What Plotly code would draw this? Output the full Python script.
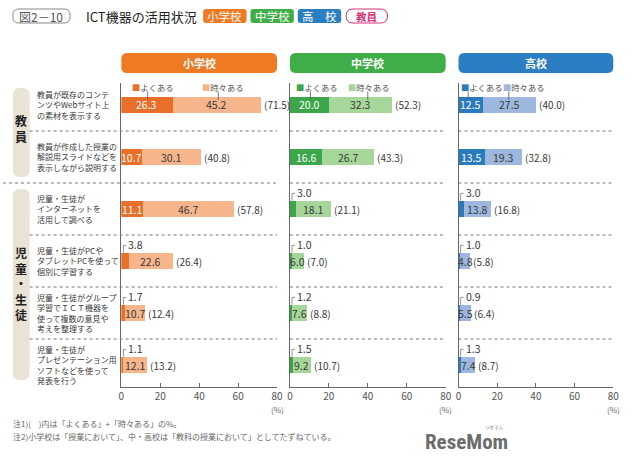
import plotly.graph_objects as go

# ---------------- data ----------------
rows = [0, 1, 2, 3, 4, 5]
row_labels = [
    "教員が既存のコンテ<br>ンツやWebサイト上<br>の素材を表示する",
    "教員が作成した授業の<br>解説用スライドなどを<br>表示しながら説明する",
    "児童・生徒が<br>インターネットを<br>活用して調べる",
    "児童・生徒がPCや<br>タブレットPCを使って<br>個別に学習する",
    "児童・生徒がグループ<br>学習でＩＣＴ機器を<br>使って複数の意見や<br>考えを整理する",
    "児童・生徒が<br>プレゼンテーション用<br>ソフトなどを使って<br>発表を行う",
]
panels = ["小学校", "中学校", "高校"]
elem_often = [26.3, 10.7, 11.1, 3.8, 1.7, 1.1]
elem_some = [45.2, 30.1, 46.7, 22.6, 10.7, 12.1]
elem_total = [71.5, 40.8, 57.8, 26.4, 12.4, 13.2]
jr_often = [20.0, 16.6, 3.0, 1.0, 1.2, 1.5]
jr_some = [32.3, 26.7, 18.1, 6.0, 7.6, 9.2]
jr_total = [52.3, 43.3, 21.1, 7.0, 8.8, 10.7]
hs_often = [12.5, 13.5, 3.0, 1.0, 0.9, 1.3]
hs_some = [27.5, 19.3, 13.8, 4.8, 5.5, 7.4]
hs_total = [40.0, 32.8, 16.8, 5.8, 6.4, 8.7]
x_ticks = [0, 20, 40, 60, 80]
legend_names = ["よくある", "時々ある"]

W, H = 640, 465
def X(p): return p / W
def Y(p): return 1 - p / H

def rrect(x0, y0, x1, y1, r):
    return (f"M {X(x0+r)},{Y(y0)} L {X(x1-r)},{Y(y0)} Q {X(x1)},{Y(y0)} {X(x1)},{Y(y0+r)} "
            f"L {X(x1)},{Y(y1-r)} Q {X(x1)},{Y(y1)} {X(x1-r)},{Y(y1)} L {X(x0+r)},{Y(y1)} "
            f"Q {X(x0)},{Y(y1)} {X(x0)},{Y(y1-r)} L {X(x0)},{Y(y0+r)} Q {X(x0)},{Y(y0)} {X(x0+r)},{Y(y0)} Z")

def ptext(x, y, text, size, color, xanchor="center", bold=False, family=None):
    return dict(x=X(x), y=Y(y), xref="paper", yref="paper", text=("<b>%s</b>" % text) if bold else text,
                showarrow=False, xanchor=xanchor, yanchor="middle",
                font=dict(family=family or FONT, size=size, color=color))

FONT = "Noto Sans CJK JP"
TXT = "#3a3a3a"
colors = [
    dict(dark="#E9702A", light="#F6B58B", head="#EE7B24"),
    dict(dark="#3BA64A", light="#A6D699", head="#3FAE49"),
    dict(dark="#2A7BBE", light="#9DB7DE", head="#2B7EC1"),
]
data = [
    (elem_often, elem_some, elem_total),
    (jr_often, jr_some, jr_total),
    (hs_often, hs_some, hs_total),
]
px_dom = [(120, 278), (291, 449), (462, 619)]
legend_pos = [  # (x of よくある text, leader x, x of 時々ある text, leader x)
    (4.5, 13.5, 40.5, 49.8),
    (2.0, 10.5, 29.0, 40.0),
    (0.5, 5.0, 22.0, 26.0),
]

fig = go.Figure()
shapes, annos = [], []
ytop, ybot = 83, 387
yr = [(ybot - 105) / 52, (ytop - 105) / 52]

for k in range(3):
    often, some, total = data[k]
    c = colors[k]
    xa = "x" if k == 0 else f"x{k+1}"
    ya = "y" if k == 0 else f"y{k+1}"
    fig.add_trace(go.Bar(y=rows, x=often, orientation="h", marker=dict(color=c["dark"], line=dict(width=0)),
                         width=0.31, xaxis=xa, yaxis=ya, hoverinfo="skip", showlegend=False))
    fig.add_trace(go.Bar(y=rows, x=some, orientation="h", marker=dict(color=c["light"], line=dict(width=0)),
                         width=0.31, xaxis=xa, yaxis=ya, hoverinfo="skip", showlegend=False))
    x0, x1 = px_dom[k]
    axname = "xaxis" if k == 0 else f"xaxis{k+1}"
    yname = "yaxis" if k == 0 else f"yaxis{k+1}"
    fig.layout[axname] = dict(domain=[X(x0), X(x1)], range=[0, 80], anchor=ya, tickvals=x_ticks,
                              ticks="inside", ticklen=4, tickcolor="#666", showline=True, linecolor="#666",
                              linewidth=1, showgrid=False, zeroline=False,
                              tickfont=dict(family=FONT, size=10, color="#555"), fixedrange=True)
    fig.layout[yname] = dict(domain=[Y(ybot), Y(ytop)], range=yr, anchor=xa, showline=True, linecolor="#666",
                             linewidth=1.2, showticklabels=False, ticks="", showgrid=False, zeroline=False,
                             fixedrange=True)
    # (%) label
    annos.append(dict(x=80, y=Y(ybot), xref=xa, yref="paper", text="(%)", showarrow=False, xanchor="center",
                      yanchor="top", yshift=-15, font=dict(family=FONT, size=8, color="#666")))
    # header
    shapes.append(dict(type="path", path=rrect(x0, 53, x1, 73, 6), xref="paper", yref="paper",
                       fillcolor=c["head"], line=dict(width=0), layer="below"))
    annos.append(ptext((x0 + x1) / 2, 63, panels[k], 11, "white", bold=True))
    # dashed separators
    for s in [0.5, 1.5, 2.5, 3.5, 4.5]:
        if k == 0:
            xs = 0 if s == 1.5 else X(27)
        else:
            xs = X(x0)
        shapes.append(dict(type="line", xref="paper", yref=ya, x0=xs, x1=X(x1), y0=s, y1=s,
                           line=dict(color="#777", width=1, dash="dot")))
    # value labels
    for i in rows:
        d, l, t = often[i], some[i], total[i]
        if d >= 5:
            annos.append(dict(x=d / 2, y=i, xref=xa, yref=ya, text="%.1f" % d, showarrow=False,
                              xanchor="center", yanchor="middle",
                              font=dict(family=FONT, size=10.5, color="white")))
        else:
            annos.append(dict(x=2.6, y=i - 0.31, xref=xa, yref=ya, text="%.1f" % d, showarrow=False,
                              xanchor="left", yanchor="middle", font=dict(family=FONT, size=10.5, color=TXT)))
            shapes.append(dict(type="path", xref=xa, yref=ya,
                               path=f"M 1.1,{i-0.16} L 1.1,{i-0.3} L 2.6,{i-0.3}",
                               line=dict(color="#777", width=0.8)))
        annos.append(dict(x=d + l / 2, y=i, xref=xa, yref=ya, text="%.1f" % l, showarrow=False,
                          xanchor="center", yanchor="middle", font=dict(family=FONT, size=10.5, color=TXT)))
        annos.append(dict(x=t, y=i, xref=xa, yref=ya, text="(%.1f)" % t, showarrow=False, xanchor="left",
                          yanchor="middle", xshift=1, font=dict(family=FONT, size=10, color=TXT)))
    # in-chart legend on first row
    lx1, ll1, lx2, ll2 = legend_pos[k]
    annos.append(dict(x=lx1, y=-0.34, xref=xa, yref=ya, xanchor="left", yanchor="middle", showarrow=False,
                      text=f'<span style="color:{c["dark"]}">■</span>{legend_names[0]}',
                      font=dict(family=FONT, size=8.3, color="#555")))
    annos.append(dict(x=lx2, y=-0.34, xref=xa, yref=ya, xanchor="left", yanchor="middle", showarrow=False,
                      text=f'<span style="color:{c["light"]}">■</span>{legend_names[1]}',
                      font=dict(family=FONT, size=8.3, color="#555")))
    for lx in (ll1, ll2):
        shapes.append(dict(type="line", xref=xa, yref=ya, x0=lx, x1=lx, y0=-0.26, y1=-0.1,
                           line=dict(color="#555", width=0.8)))

# row labels
for i in rows:
    annos.append(dict(x=X(32), y=i, xref="paper", yref="y", text=row_labels[i], showarrow=False,
                      xanchor="left", yanchor="middle", align="left",
                      font=dict(family=FONT, size=8, color=TXT)))

# group labels
shapes.append(dict(type="path", path=rrect(10, 88, 27, 177, 7), xref="paper", yref="paper",
                   fillcolor="#E9E3D5", line=dict(width=0), layer="below"))
shapes.append(dict(type="path", path=rrect(10, 189, 27, 380, 7), xref="paper", yref="paper",
                   fillcolor="#E9E3D5", line=dict(width=0), layer="below"))
annos.append(ptext(18.5, 129, "教<br>員", 12, "#222", bold=True))
annos.append(ptext(18.5, 283, "児<br>童<br>・<br>生<br>徒", 12, "#222", bold=True))

# title
shapes.append(dict(type="path", path=rrect(10, 9, 68, 23, 6), xref="paper", yref="paper",
                   fillcolor="white", line=dict(color="#888", width=1), layer="below"))
annos.append(ptext(39, 16, "図2－10", 12, "#555"))
annos.append(ptext(82, 16, "ICT機器の活用状況", 13, "#222", xanchor="left"))
badges = [("小学校", 203, 247, "#EE7B24"), ("中学校", 251, 295, "#3FAE49"), ("高　校", 299, 343, "#2B7EC1")]
for txt, a, b, col in badges:
    shapes.append(dict(type="path", path=rrect(a, 9, b, 23, 3), xref="paper", yref="paper",
                       fillcolor=col, line=dict(width=0), layer="below"))
    annos.append(ptext((a + b) / 2, 16, txt, 11.5, "white"))
shapes.append(dict(type="path", path=rrect(348, 9, 390, 23, 7), xref="paper", yref="paper",
                   fillcolor="white", line=dict(color="#D6307A", width=1), layer="below"))
annos.append(ptext(369, 16, "教員", 10.5, "#D6307A", bold=True))

# notes
annos.append(ptext(8, 423, "注1)(　)内は「よくある」+「時々ある」の%。", 8, "#666", xanchor="left"))
annos.append(ptext(8, 436, "注2)小学校は「授業において」、中・高校は「教科の授業において」としてたずねている。",
                   8, "#666", xanchor="left"))
# logo
annos.append(ptext(514, 442, "ReseMom", 21, "#6d6d6d", xanchor="right", bold=True,
                   family="Roboto Condensed, Liberation Sans Narrow, Roboto"))
annos.append(ptext(510, 427, "リセマム", 4.5, "#777", xanchor="right"))

fig.update_layout(width=W, height=H, margin=dict(l=0, r=0, t=0, b=0), barmode="stack",
                  paper_bgcolor="white", plot_bgcolor="white", shapes=shapes, annotations=annos,
                  showlegend=False)
fig.write_html("out.html", config={"displayModeBar": False},
               post_script="document.body.style.margin='0';document.body.style.padding='0';")
